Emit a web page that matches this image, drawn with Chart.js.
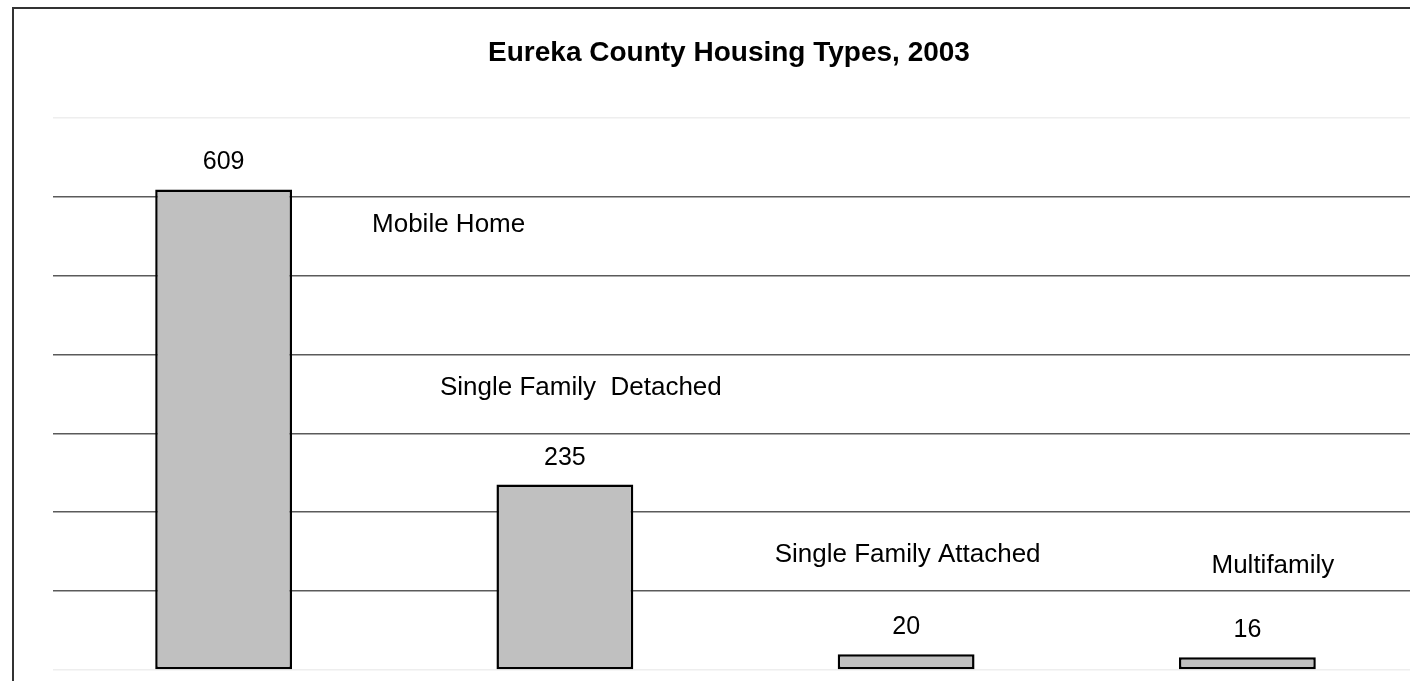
<!DOCTYPE html>
<html>
<head>
<meta charset="utf-8">
<script src="https://cdn.jsdelivr.net/npm/chart.js@4"></script>
<style>
  html, body { margin: 0; padding: 0; background: #fff; overflow: hidden; }
  #frame { position: absolute; left: 12px; top: 7px; width: 1500px; height: 700px;
           border-left: 2px solid #333; border-top: 2px solid #333; }
  #wrap { position: absolute; left: 0; top: 0; width: 1430px; height: 681px; }
</style>
</head>
<body>
<div id="frame"></div>
<div id="wrap"><canvas id="housingChart" width="1430" height="681"></canvas></div>
<script>
const categories = ['Mobile Home', 'Single Family  Detached', 'Single Family Attached', 'Multifamily'];
const units = [609, 235, 20, 16];
const yTicks = [0, 100, 200, 300, 400, 500, 600, 700];

const FONT = '"Liberation Sans", Arial, sans-serif';

// category names sit inside the plot, next to their bars
const nameAnchors = [
  { dx: 225, value: 555 },
  { dx: 16, value: 349 },
  { dx: 1.5, value: 137 },
  { dx: 25.5, value: 123 }
];

const barLabels = {
  id: 'barLabels',
  afterDatasetsDraw(chart) {
    const c = chart.ctx;
    const meta = chart.getDatasetMeta(0);
    const y = chart.scales.y;
    c.save();
    c.fillStyle = '#000';
    c.textAlign = 'center';
    c.textBaseline = 'alphabetic';
    meta.data.forEach((bar, i) => {
      c.font = '25px ' + FONT;
      c.fillText(String(units[i]), bar.x, bar.y - 20);
      const a = nameAnchors[i];
      c.font = '26px ' + FONT;
      c.fillText(categories[i], bar.x + a.dx, y.getPixelForValue(a.value));
    });
    c.restore();
  }
};

new Chart(document.getElementById('housingChart'), {
  type: 'bar',
  data: {
    labels: categories,
    datasets: [{
      data: units,
      backgroundColor: '#c0c0c0',
      borderColor: '#000',
      borderWidth: 2.5,
      borderSkipped: false,
      categoryPercentage: 1,
      barPercentage: 0.401
    }]
  },
  options: {
    responsive: false,
    animation: false,
    layout: { padding: { left: 40, right: 12, top: 0, bottom: 11 } },
    plugins: {
      legend: { display: false },
      tooltip: { enabled: false },
      title: {
        display: true,
        text: 'Eureka County Housing Types, 2003',
        color: '#000',
        font: { family: FONT, size: 28, weight: 'bold', lineHeight: 1.2 },
        padding: { top: 36, bottom: 48 }
      }
    },
    scales: {
      x: { display: false },
      y: {
        min: 0,
        max: 700,
        afterFit: s => { s.width = 13; },
        afterBuildTicks: s => { s.ticks = yTicks.map(v => ({ value: v })); },
        ticks: { display: false },
        border: { display: false },
        grid: {
          drawTicks: false,
          lineWidth: 1.5,
          color: ctx => (ctx.tick.value === 0 || ctx.tick.value === 700) ? '#eeeeee' : '#5a5a5a'
        }
      }
    }
  },
  plugins: [barLabels]
});
</script>
</body>
</html>
